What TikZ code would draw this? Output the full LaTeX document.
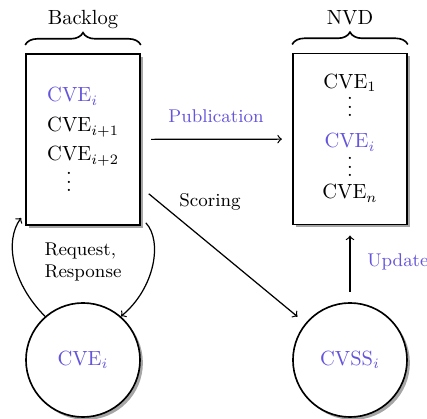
\documentclass[tikz,border=0pt]{standalone}
\usetikzlibrary{shadows,decorations.pathreplacing}
\definecolor{cveblue}{RGB}{100,85,220}
% three stacked dots without the extra space above them
\newcommand\stackdots{\vbox{\baselineskip4pt\lineskiplimit0pt\hbox{.}\hbox{.}\hbox{.}}}
\begin{document}
\begin{tikzpicture}[x=0.01714cm,y=-0.01714cm,
  shade box/.style={drop shadow={shadow xshift=1.4pt,shadow yshift=-1.4pt,fill=black!35,opacity=1}},
  store/.style={draw,thick,fill=white,minimum width=1.954cm,minimum height=2.931cm,shade box},
  item/.style={circle,draw,thick,fill=white,minimum size=1.954cm,inner sep=0pt,shade box},
  flow/.style={->,semithick,shorten <=5pt,shorten >=5pt},
  bracket/.style={thick,decorate,decoration={brace,amplitude=6pt}},
  lbl/.style={font=\small},
  hl/.style={text=cveblue}]
\useasboundingbox (0,0) rectangle (427,419);

% the two record stores
\node[store] (backlog) at (83,139.5) {};
\node[store] (nvd) at (350,139) {};

% the two single entries
\node[item,hl] (cvei) at (83,360) {CVE$_i$};
\node[item,hl] (cvss) at (350,360) {CVSS$_i$};

% braces and titles
\draw[bracket] ([yshift=4pt]backlog.north west) -- ([yshift=4pt]backlog.north east);
\draw[bracket] ([yshift=4pt]nvd.north west) -- ([yshift=4pt]nvd.north east);
\node[anchor=base] (tb) at (83,25) {Backlog};
\node[anchor=base] (tn) at (350,25) {NVD};

% backlog contents
\node[hl,anchor=base west] (b1) at (40,102) {CVE$_i$};
\node[anchor=base west] (b2) at (40,132) {CVE$_{i+1}$};
\node[anchor=base west] (b3) at (40,161) {CVE$_{i+2}$};
\node[inner sep=0pt] (b4) at (69,182) {\stackdots};

% NVD contents
\node[anchor=base] (n1) at (350,88) {CVE$_1$};
\node[inner sep=0pt] (n2) at (350,107) {\stackdots};
\node[hl,anchor=base] (n3) at (350,148) {CVE$_i$};
\node[inner sep=0pt] (n4) at (350,167) {\stackdots};
\node[anchor=base] (n5) at (350,199) {CVE$_n$};

% connectors
\draw[flow] (backlog) -- (nvd);
\node[lbl,hl,anchor=base] (lpub) at (216,123) {Publication};

\draw[flow] (backlog) -- (cvss);
\node[lbl,anchor=base] (lsc) at (210,207) {Scoring};

\draw[flow] (cvss) -- (nvd);
\node[lbl,hl,anchor=base west,inner sep=0pt] (lup) at (367,267) {Update};

\draw[->,semithick] (cvei.131) .. controls +(-33,-33) and +(-17,23) .. ([shift={(-4,-8)}]backlog.south west);
\draw[->,semithick] ([shift={(5,-3)}]backlog.south east) .. controls +(17,18) and +(34,-28) .. (cvei.49);
\node[lbl,align=left] (lrr) at (83,262) {Request,\\Response};
\end{tikzpicture}
\end{document}
